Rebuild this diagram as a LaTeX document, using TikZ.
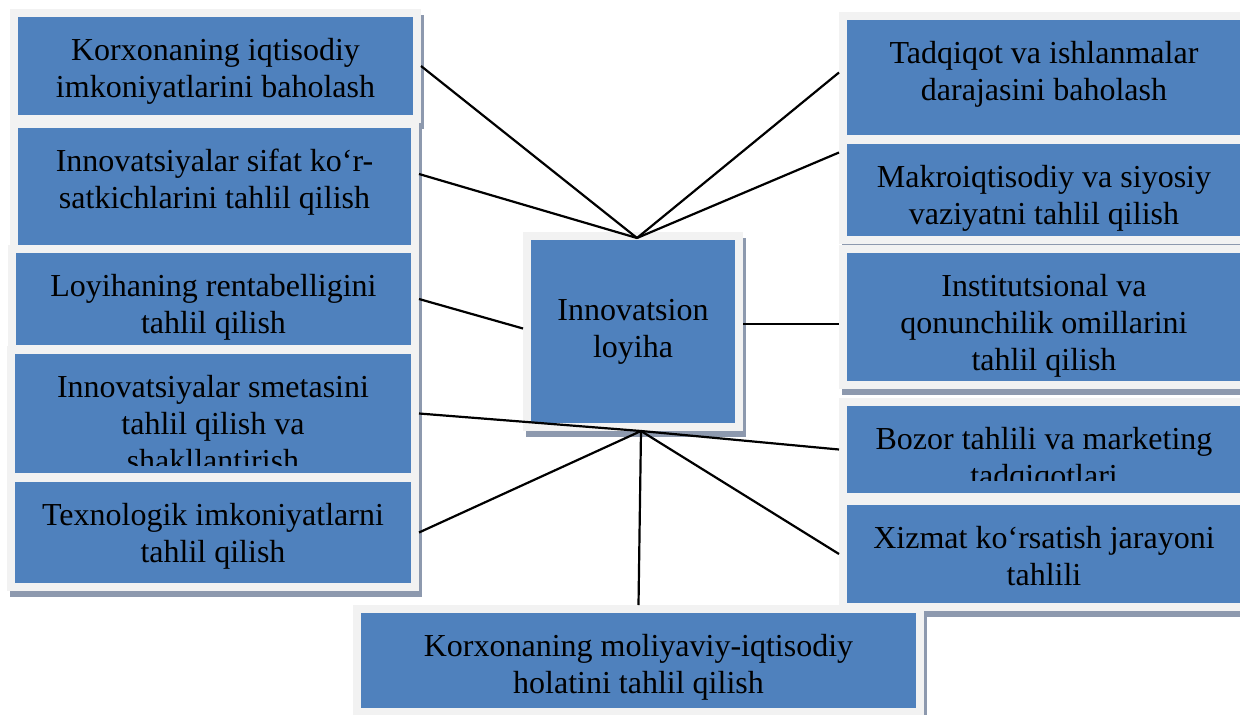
\documentclass[tikz,border=0pt]{standalone}
\usepackage{fontspec}
\setmainfont{Liberation Serif}
\definecolor{bl}{RGB}{79,129,189}
\definecolor{fr}{RGB}{242,242,242}
\definecolor{sh}{RGB}{141,153,174}
\tikzset{
 blk/.style={fill=bl, draw=fr, line width=8pt, inner sep=0pt,
   preaction={fill=sh, draw=sh, line width=8pt, transform canvas={shift={(3pt,-6pt)}}}},
 lbl/.style={anchor=north, inner sep=0pt, minimum width=0pt, minimum height=0pt, text=black, align=center, font=\fontsize{32}{37}\selectfont},
 conn/.style={draw=black, line width=2.2pt}
}
\newcommand\clipy{4}
\newcommand\bx[7][43]{%
 \node[blk, minimum width={#5-#3+8}, minimum height={#6-#4+8},
  path picture={
   \clip ([yshift=\clipy pt]path picture bounding box.south west) rectangle (path picture bounding box.north east);
   \node[lbl] (#2-t) at (path picture bounding box.north) {\rule{0pt}{#1pt}#7};}]
  (#2) at ({(#3+#5)/2},{(#4+#6)/2}) {};}
\begin{document}
\begin{tikzpicture}[x=1pt,y=-1pt]
\useasboundingbox (0,0) rectangle (1240,715);
\clip (0,0) rectangle (1240,715);
% left column
\bx{b1}{18}{17}{413}{115}{Korxonaning iqtisodiy\\imkoniyatlarini baholash}
\bx{b2}{18}{128}{411}{245}{Innovatsiyalar sifat ko‘r-\\satkichlarini tahlil qilish}
\bx{b3}{16}{253}{411}{345}{Loyihaning rentabelligini\\tahlil qilish}
\renewcommand\clipy{12}
\bx{b4}{15}{354}{411}{473}{Innovatsiyalar smetasini\\tahlil qilish va\\shakllantirish}
\renewcommand\clipy{4}
\bx{b5}{15}{482}{411}{583}{Texnologik imkoniyatlarni\\tahlil qilish}
% centre
\bx[80.7]{c}{531}{240}{735}{423}{Innovatsion\\loyiha}
% right column
\bx{r1}{847}{20}{1241}{135}{Tadqiqot va ishlanmalar\\darajasini baholash}
\bx{r2}{847}{144}{1241}{236}{Makroiqtisodiy va siyosiy\\vaziyatni tahlil qilish}
\bx{r3}{847}{253}{1241}{381}{Institutsional va\\qonunchilik omillarini\\tahlil qilish}
\renewcommand\clipy{17}
\bx{r4}{847}{406}{1241}{493}{Bozor tahlili va marketing\\tadqiqotlari}
\renewcommand\clipy{4}
\bx{r5}{847}{505}{1241}{603}{Xizmat ko‘rsatish jarayoni\\tahlili}
% bottom
\bx{bt}{361}{613}{916}{708}{Korxonaning moliyaviy-iqtisodiy\\holatini tahlil qilish}
% connectors
\coordinate (ctop) at (637,238);
\coordinate (cbot) at (641,431);
\draw[conn] (b1.east) -- (ctop);
\draw[conn] ([yshift=12.5pt]b2.east) -- (ctop);
\draw[conn] (b3.east) -- ([yshift=3pt]c.west);
\draw[conn] (b4.east) -- (cbot);
\draw[conn] (cbot) -- (r4.west);
\draw[conn] (b5.east) -- (cbot);
\draw[conn] (bt.north) -- (cbot);
\draw[conn] (r5.west) -- (cbot);
\draw[conn] ([yshift=7.5pt]c.east) -- ([yshift=-7pt]r3.west);
\draw[conn] ([yshift=5pt]r1.west) -- (ctop);
\draw[conn] ([yshift=37.5pt]r2.west) -- (ctop);
\end{tikzpicture}
\end{document}
